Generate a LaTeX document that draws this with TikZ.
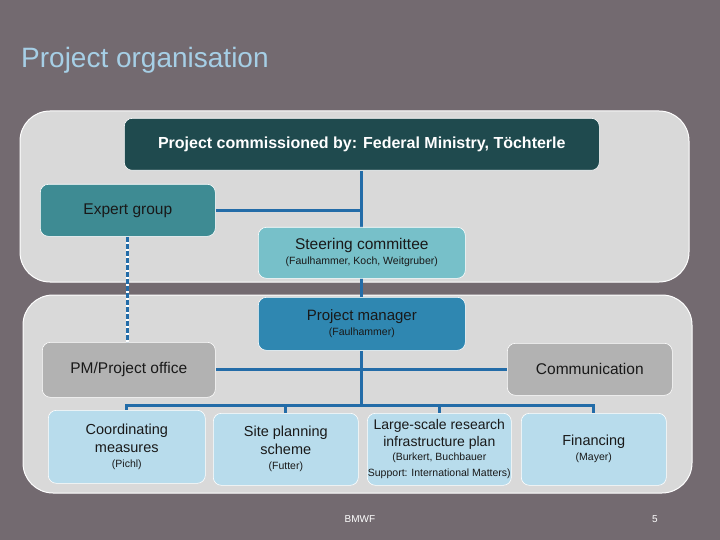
\documentclass[tikz,border=0pt]{standalone}
\usepackage{fontspec}
\setmainfont{Liberation Sans}
\pgfdeclarelayer{back}
\pgfdeclarelayer{background}
\pgfsetlayers{back,background,main}
\definecolor{bgc}{RGB}{115,106,112}
\definecolor{panelc}{RGB}{217,217,217}
\definecolor{comc}{RGB}{31,74,78}
\definecolor{expc}{RGB}{62,139,147}
\definecolor{steerc}{RGB}{119,192,201}
\definecolor{pmc}{RGB}{47,135,177}
\definecolor{greyc}{RGB}{178,178,178}
\definecolor{lbluec}{RGB}{184,220,236}
\definecolor{linkc}{RGB}{35,108,168}
\definecolor{titlec}{RGB}{166,207,230}
\definecolor{txtc}{RGB}{25,25,25}
\newcommand{\bigsz}{\fontsize{15.5}{18}\selectfont}
\newcommand{\mainsz}{\fontsize{14.5}{18}\selectfont}
\newcommand{\smallsz}{\fontsize{10.5}{12}\selectfont}
\begin{document}
\begin{tikzpicture}[x=1pt,y=-1pt,
  box/.style={draw=white, line width=0.6pt, rounded corners=8pt, anchor=north west,
    inner sep=0pt, align=center, text=txtc, font=\mainsz},
  panel/.style={fill=panelc, draw=white, line width=1pt, rounded corners=30pt},
  conn/.style={draw=linkc, line width=3pt},
]
\useasboundingbox (0,0) rectangle (720,540);
\begin{pgfonlayer}{back}
\fill[bgc] (0,0) rectangle (720,540);
\draw[panel] (20,111) rectangle (689,282);
\draw[panel] (23,295) rectangle (692,493);
\end{pgfonlayer}

\node[anchor=base west, text=titlec, font=\fontsize{28}{32}\selectfont, inner sep=0pt] (title) at (21,68) {Project organisation};

\node[box, fill=comc, text=white, minimum width=475pt, minimum height=52pt,
  font=\fontsize{16}{19}\selectfont\bfseries] (com) at (124,118)
  {Project commissioned by: Federal Ministry, Töchterle};
\node[box, fill=expc, minimum width=175pt, minimum height=52pt, font=\bigsz] (exp) at (40,184) {Expert group};
\node[box, fill=steerc, minimum width=207pt, minimum height=51pt, font=\bigsz] (steer) at (258,227)
  {Steering committee\\[-3pt]\smallsz (Faulhammer, Koch, Weitgruber)};
\node[box, fill=pmc, minimum width=207pt, minimum height=53pt, font=\fontsize{15}{18}\selectfont] (pm) at (258,297)
  {Project manager\\[-3pt]\smallsz (Faulhammer)};
\node[box, fill=greyc, minimum width=173pt, minimum height=55pt, font=\bigsz] (pmo) at (42,342) {PM/Project office};
\node[box, fill=greyc, minimum width=165pt, minimum height=52pt, font=\bigsz] (comm) at (507,343) {Communication};
\node[box, fill=lbluec, minimum width=157pt, minimum height=73pt] (coo) at (48,410)
  {Coordinating\\measures\\[-3pt]\smallsz (Pichl)};
\node[box, fill=lbluec, minimum width=145pt, minimum height=72pt] (site) at (213,413)
  {Site planning\\scheme\\[-3pt]\smallsz (Futter)};
\node[box, fill=lbluec, minimum width=144pt, minimum height=72pt, font=\fontsize{14}{17}\selectfont] (large) at (367,413)
  {Large-scale research\\infrastructure plan\\[-3pt]\smallsz (Burkert, Buchbauer\\[-1pt]\smallsz Support: International Matters)};
\node[box, fill=lbluec, minimum width=145pt, minimum height=72pt] (fin) at (521,413)
  {Financing\\[-3pt]\smallsz (Mayer)};

\coordinate (busy) at (0,405);
\begin{pgfonlayer}{background}
\draw[conn] (com.south) -- (pm.north);
\draw[conn] (exp.east) -- (exp.east -| com.south);
\draw[draw=white, line width=3pt] (exp.south) -- (exp.south |- pmo.north);
\draw[conn, dash pattern=on 5pt off 2pt] (exp.south) -- (exp.south |- pmo.north);
\draw[conn] (pmo.east) -- (pmo.east -| comm.west);
\draw[conn] (pm.south) -- (pm.south |- busy);
\draw[conn] (coo.north) -- (coo.north |- busy) -| (fin.north);
\draw[conn] (site.north) -- (site.north |- busy);
\draw[conn] (large.north) -- (large.north |- busy);
\end{pgfonlayer}

\node[text=white, font=\fontsize{10}{12}\selectfont, inner sep=0pt] (bmwf) at (360,519) {BMWF};
\node[text=white, font=\fontsize{10}{12}\selectfont, inner sep=0pt] (pg) at (655,519) {5};
\end{tikzpicture}
\end{document}
